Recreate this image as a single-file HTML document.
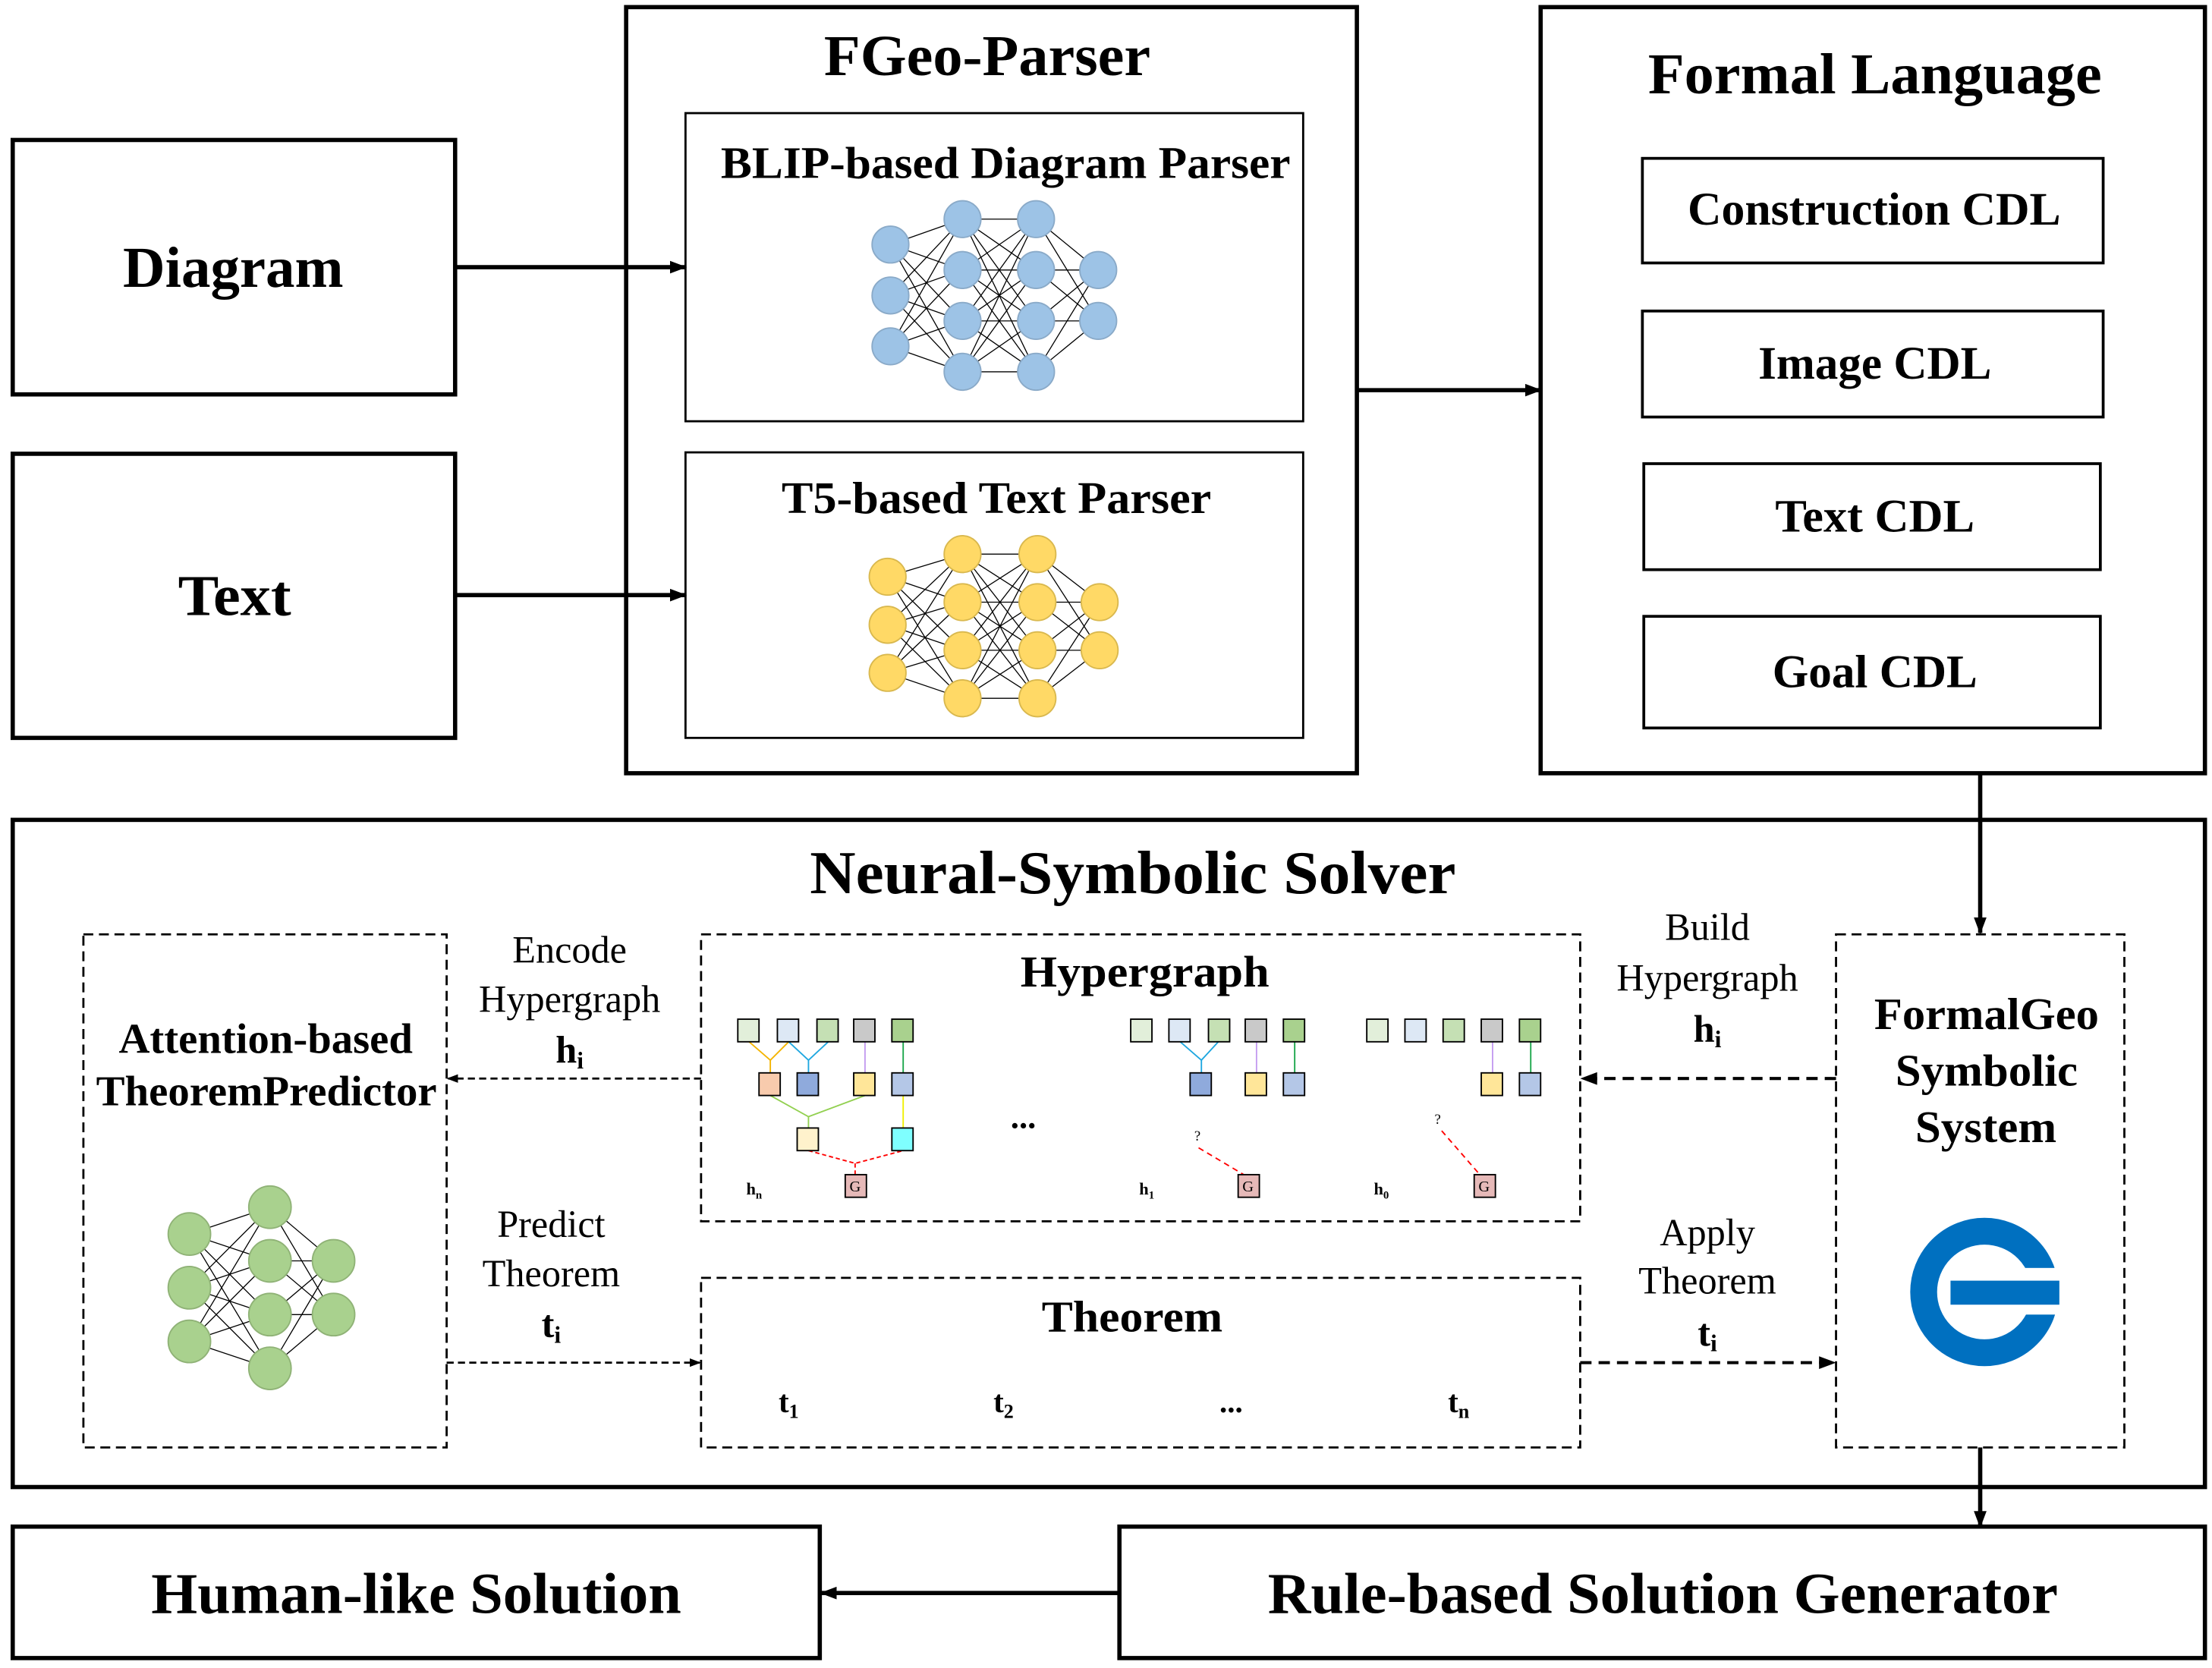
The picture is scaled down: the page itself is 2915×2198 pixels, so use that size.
<!DOCTYPE html>
<html><head><meta charset="utf-8"><style>
html,body{margin:0;padding:0;background:#fff;}
svg{display:block;}
text{font-family:"Liberation Serif",serif;fill:#000;}
.b{font-weight:bold;}
</style></head><body>
<svg width="2915" height="2198" viewBox="0 0 1565 1180" xmlns="http://www.w3.org/2000/svg">
<defs>
<marker id="ah" markerWidth="12" markerHeight="9" refX="11" refY="4.5" orient="auto" markerUnits="userSpaceOnUse"><path d="M0,0 L12,4.5 L0,9 z" fill="#000"/></marker>
<marker id="ahs" markerWidth="8" markerHeight="6" refX="7" refY="3" orient="auto" markerUnits="userSpaceOnUse"><path d="M0,0 L8,3 L0,6 z" fill="#000"/></marker>
</defs>
<g fill="none" stroke="#000">
<rect x="9" y="99" width="313" height="180" stroke-width="3"/>
<rect x="9" y="321" width="313" height="201" stroke-width="3"/>
<rect x="443" y="5" width="517" height="542" stroke-width="3"/>
<rect x="485" y="80" width="437" height="218" stroke-width="1.5"/>
<rect x="485" y="320" width="437" height="202" stroke-width="1.5"/>
<rect x="1090" y="5" width="470" height="542" stroke-width="3"/>
<rect x="1162" y="112" width="326" height="74" stroke-width="2"/>
<rect x="1162" y="220" width="326" height="75" stroke-width="2"/>
<rect x="1163" y="328" width="323" height="75" stroke-width="2"/>
<rect x="1163" y="436" width="323" height="79" stroke-width="2"/>
<rect x="9" y="580" width="1551" height="472" stroke-width="3"/>
<rect x="9" y="1080" width="571" height="93" stroke-width="3"/>
<rect x="792" y="1080" width="768" height="93" stroke-width="3"/>
<g stroke-dasharray="7,4" stroke-width="1.5">
<rect x="59" y="661" width="257" height="363"/>
<rect x="496" y="661" width="622" height="203"/>
<rect x="496" y="904" width="622" height="120"/>
<rect x="1299" y="661" width="204" height="363"/>
</g>
<g stroke-width="3">
<line x1="322" y1="189" x2="485" y2="189" marker-end="url(#ah)"/>
<line x1="322" y1="421" x2="485" y2="421" marker-end="url(#ah)"/>
<line x1="960" y1="276" x2="1090" y2="276" marker-end="url(#ah)"/>
<line x1="1401" y1="547" x2="1401" y2="660" marker-end="url(#ah)"/>
<line x1="1401" y1="1024" x2="1401" y2="1080" marker-end="url(#ah)"/>
<line x1="792" y1="1127" x2="581" y2="1127" marker-end="url(#ah)"/>
</g>
<g stroke-width="1.5" stroke-dasharray="5,3">
<line x1="496" y1="763" x2="317" y2="763" marker-end="url(#ahs)"/>
<line x1="316" y1="964" x2="495" y2="964" marker-end="url(#ahs)"/>
</g>
<g stroke-width="2.2" stroke-dasharray="8,5">
<line x1="1299" y1="763" x2="1119" y2="763" marker-end="url(#ah)"/>
<line x1="1118" y1="964" x2="1298" y2="964" marker-end="url(#ah)"/>
</g>
</g>
<!-- hypergraph -->
<g stroke-width="1">
<g stroke="#f4b400"><polyline fill="none" points="530,737 545,750 558,737"/><line x1="545" y1="750" x2="545" y2="760"/></g>
<g stroke="#1ea7e0"><polyline fill="none" points="558,737 572,750 586,737"/><line x1="572" y1="750" x2="572" y2="760"/></g>
<line x1="612" y1="737" x2="612" y2="760" stroke="#c39bf0"/>
<line x1="639" y1="737" x2="639" y2="760" stroke="#1aa64a"/>
<g stroke="#92d050"><polyline fill="none" points="545,775 572,790 612,775"/><line x1="572" y1="790" x2="572" y2="798"/></g>
<line x1="639" y1="775" x2="639" y2="798" stroke="#f0f000"/>
<g stroke="#f00" stroke-dasharray="3,2"><polyline fill="none" points="572,814 605,823 639,814"/><line x1="605" y1="823" x2="605" y2="831"/></g>
<g stroke="#1ea7e0"><polyline fill="none" points="835,737 850,750 862,737"/><line x1="850" y1="750" x2="850" y2="760"/></g>
<line x1="889" y1="737" x2="889" y2="760" stroke="#c39bf0"/>
<line x1="916" y1="737" x2="916" y2="760" stroke="#1aa64a"/>
<line x1="1056" y1="737" x2="1056" y2="760" stroke="#c39bf0"/>
<line x1="1083" y1="737" x2="1083" y2="760" stroke="#1aa64a"/>
<line x1="848" y1="812" x2="880" y2="831" stroke="#f00" stroke-dasharray="4,3"/>
<line x1="1020" y1="800" x2="1047" y2="831" stroke="#f00" stroke-dasharray="4,3"/>
</g>
<g stroke="#000" stroke-width="1">
<rect x="522" y="721" width="15" height="16" fill="#e2efda"/><rect x="550" y="721" width="15" height="16" fill="#dde8f5"/><rect x="578" y="721" width="15" height="16" fill="#c5e0b4"/><rect x="604" y="721" width="15" height="16" fill="#c9c9c9"/><rect x="631" y="721" width="15" height="16" fill="#a9d18e"/>
<rect x="537" y="759" width="15" height="16" fill="#f8cbad"/><rect x="564" y="759" width="15" height="16" fill="#8faadc"/><rect x="604" y="759" width="15" height="16" fill="#ffe699"/><rect x="631" y="759" width="15" height="16" fill="#b4c7e7"/>
<rect x="564" y="798" width="15" height="16" fill="#fff2cc"/><rect x="631" y="798" width="15" height="16" fill="#7fffff"/>
<rect x="598" y="831" width="15" height="16" fill="#e6b9b8"/>
<rect x="800" y="721" width="15" height="16" fill="#e2efda"/><rect x="827" y="721" width="15" height="16" fill="#dde8f5"/><rect x="855" y="721" width="15" height="16" fill="#c5e0b4"/><rect x="881" y="721" width="15" height="16" fill="#c9c9c9"/><rect x="908" y="721" width="15" height="16" fill="#a9d18e"/>
<rect x="842" y="759" width="15" height="16" fill="#8faadc"/><rect x="881" y="759" width="15" height="16" fill="#ffe699"/><rect x="908" y="759" width="15" height="16" fill="#b4c7e7"/>
<rect x="876" y="831" width="15" height="16" fill="#e6b9b8"/>
<rect x="967" y="721" width="15" height="16" fill="#e2efda"/><rect x="994" y="721" width="15" height="16" fill="#dde8f5"/><rect x="1021" y="721" width="15" height="16" fill="#c5e0b4"/><rect x="1048" y="721" width="15" height="16" fill="#c9c9c9"/><rect x="1075" y="721" width="15" height="16" fill="#a9d18e"/>
<rect x="1048" y="759" width="15" height="16" fill="#ffe699"/><rect x="1075" y="759" width="15" height="16" fill="#b4c7e7"/>
<rect x="1043" y="831" width="15" height="16" fill="#e6b9b8"/>
</g>
<g font-size="11">
<text x="605" y="843" text-anchor="middle">G</text><text x="883" y="843" text-anchor="middle">G</text><text x="1050" y="843" text-anchor="middle">G</text>
<text x="845" y="807" font-size="10">?</text><text x="1015" y="795" font-size="10">?</text>
<text x="528" y="845" class="b" font-size="12">h<tspan font-size="8" dy="3">n</tspan></text>
<text x="806" y="845" class="b" font-size="12">h<tspan font-size="8" dy="3">1</tspan></text>
<text x="972" y="845" class="b" font-size="12">h<tspan font-size="8" dy="3">0</tspan></text>
</g>
<text x="724" y="798" class="b" font-size="24" text-anchor="middle">...</text>
<!-- logo -->
<circle cx="1404" cy="914" r="43" fill="none" stroke="#0070c0" stroke-width="19"/>
<rect x="1428" y="897" width="40" height="33" fill="#fff"/>
<rect x="1380" y="906" width="77" height="17" fill="#0070c0"/>
<!-- text -->
<g class="b" lengthAdjust="spacingAndGlyphs">
<text x="87" y="203" font-size="41" textLength="156" lengthAdjust="spacingAndGlyphs">Diagram</text>
<text x="126" y="435" font-size="41" textLength="80" lengthAdjust="spacingAndGlyphs">Text</text>
<text x="583" y="53" font-size="41" textLength="231" lengthAdjust="spacingAndGlyphs">FGeo-Parser</text>
<text x="510" y="126" font-size="32" textLength="403" lengthAdjust="spacingAndGlyphs">BLIP-based Diagram Parser</text>
<text x="553" y="363" font-size="32" textLength="304" lengthAdjust="spacingAndGlyphs">T5-based Text Parser</text>
<text x="1166" y="66" font-size="41" textLength="321" lengthAdjust="spacingAndGlyphs">Formal Language</text>
<text x="1194" y="159" font-size="33" textLength="264" lengthAdjust="spacingAndGlyphs">Construction CDL</text>
<text x="1244" y="268" font-size="33" textLength="165" lengthAdjust="spacingAndGlyphs">Image CDL</text>
<text x="1256" y="376" font-size="33" textLength="141" lengthAdjust="spacingAndGlyphs">Text CDL</text>
<text x="1254" y="486" font-size="33" textLength="145" lengthAdjust="spacingAndGlyphs">Goal CDL</text>
<text x="573" y="632" font-size="43" textLength="457" lengthAdjust="spacingAndGlyphs">Neural-Symbolic Solver</text>
<text x="84" y="745" font-size="30" textLength="208" lengthAdjust="spacingAndGlyphs">Attention-based</text>
<text x="68" y="782" font-size="30" textLength="241" lengthAdjust="spacingAndGlyphs">TheoremPredictor</text>
<text x="722" y="698" font-size="31" textLength="176" lengthAdjust="spacingAndGlyphs">Hypergraph</text>
<text x="737" y="942" font-size="31" textLength="128" lengthAdjust="spacingAndGlyphs">Theorem</text>
<text x="1326" y="728" font-size="32" textLength="159" lengthAdjust="spacingAndGlyphs">FormalGeo</text>
<text x="1341" y="768" font-size="32" textLength="129" lengthAdjust="spacingAndGlyphs">Symbolic</text>
<text x="1355" y="808" font-size="32" textLength="100" lengthAdjust="spacingAndGlyphs">System</text>
<text x="107" y="1141" font-size="41" textLength="375" lengthAdjust="spacingAndGlyphs">Human-like Solution</text>
<text x="897" y="1141" font-size="41" textLength="559" lengthAdjust="spacingAndGlyphs">Rule-based Solution Generator</text>
</g>
<g class="b" text-anchor="middle">
<text x="558" y="999" font-size="22" class="b">t<tspan font-size="14" dy="4">1</tspan></text>
<text x="710" y="999" font-size="22" class="b">t<tspan font-size="14" dy="4">2</tspan></text>
<text x="871" y="999" font-size="22" class="b">...</text>
<text x="1032" y="999" font-size="22" class="b">t<tspan font-size="14" dy="4">n</tspan></text>
</g>
<g text-anchor="middle" font-size="27">
<text x="403" y="681">Encode</text><text x="403" y="716">Hypergraph</text>
<text x="403" y="752" class="b">h<tspan font-size="17" dy="4">i</tspan></text>
<text x="1208" y="665">Build</text><text x="1208" y="701">Hypergraph</text>
<text x="1208" y="737" class="b">h<tspan font-size="17" dy="4">i</tspan></text>
<text x="390" y="875">Predict</text><text x="390" y="910">Theorem</text>
<text x="390" y="946" class="b">t<tspan font-size="17" dy="4">i</tspan></text>
<text x="1208" y="881">Apply</text><text x="1208" y="915">Theorem</text>
<text x="1208" y="952" class="b">t<tspan font-size="17" dy="4">i</tspan></text>
</g>
<g stroke="#000" stroke-width="0.7">
<path d="M630,173L681,155M630,173L681,191M630,173L681,227M630,173L681,263M630,209L681,155M630,209L681,191M630,209L681,227M630,209L681,263M630,245L681,155M630,245L681,191M630,245L681,227M630,245L681,263
M681,155L733,155M681,155L733,191M681,155L733,227M681,155L733,263M681,191L733,155M681,191L733,191M681,191L733,227M681,191L733,263M681,227L733,155M681,227L733,191M681,227L733,227M681,227L733,263M681,263L733,155M681,263L733,191M681,263L733,227M681,263L733,263
M733,155L777,191M733,155L777,227M733,191L777,191M733,191L777,227M733,227L777,191M733,227L777,227M733,263L777,191M733,263L777,227"/>
<path d="M628,408L681,392M628,408L681,426M628,408L681,460M628,408L681,494M628,442L681,392M628,442L681,426M628,442L681,460M628,442L681,494M628,476L681,392M628,476L681,426M628,476L681,460M628,476L681,494
M681,392L734,392M681,392L734,426M681,392L734,460M681,392L734,494M681,426L734,392M681,426L734,426M681,426L734,460M681,426L734,494M681,460L734,392M681,460L734,426M681,460L734,460M681,460L734,494M681,494L734,392M681,494L734,426M681,494L734,460M681,494L734,494
M734,392L778,426M734,392L778,460M734,426L778,426M734,426L778,460M734,460L778,426M734,460L778,460M734,494L778,426M734,494L778,460"/>
<path d="M134,873L191,854M134,873L191,892M134,873L191,930M134,873L191,968M134,911L191,854M134,911L191,892M134,911L191,930M134,911L191,968M134,949L191,854M134,949L191,892M134,949L191,930M134,949L191,968
M191,854L236,892M191,854L236,930M191,892L236,892M191,892L236,930M191,930L236,892M191,930L236,930M191,968L236,892M191,968L236,930"/>
</g>
<g fill="#9dc3e6" stroke="#8aaac8" stroke-width="1">
<circle cx="630" cy="173" r="13"/><circle cx="630" cy="209" r="13"/><circle cx="630" cy="245" r="13"/>
<circle cx="681" cy="155" r="13"/><circle cx="681" cy="191" r="13"/><circle cx="681" cy="227" r="13"/><circle cx="681" cy="263" r="13"/>
<circle cx="733" cy="155" r="13"/><circle cx="733" cy="191" r="13"/><circle cx="733" cy="227" r="13"/><circle cx="733" cy="263" r="13"/>
<circle cx="777" cy="191" r="13"/><circle cx="777" cy="227" r="13"/>
</g>
<g fill="#ffd966" stroke="#d9b84e" stroke-width="1">
<circle cx="628" cy="408" r="13"/><circle cx="628" cy="442" r="13"/><circle cx="628" cy="476" r="13"/>
<circle cx="681" cy="392" r="13"/><circle cx="681" cy="426" r="13"/><circle cx="681" cy="460" r="13"/><circle cx="681" cy="494" r="13"/>
<circle cx="734" cy="392" r="13"/><circle cx="734" cy="426" r="13"/><circle cx="734" cy="460" r="13"/><circle cx="734" cy="494" r="13"/>
<circle cx="778" cy="426" r="13"/><circle cx="778" cy="460" r="13"/>
</g>
<g fill="#a9d18e" stroke="#8fb276" stroke-width="1">
<circle cx="134" cy="873" r="15"/><circle cx="134" cy="911" r="15"/><circle cx="134" cy="949" r="15"/>
<circle cx="191" cy="854" r="15"/><circle cx="191" cy="892" r="15"/><circle cx="191" cy="930" r="15"/><circle cx="191" cy="968" r="15"/>
<circle cx="236" cy="892" r="15"/><circle cx="236" cy="930" r="15"/>
</g>
</svg>
</body></html>
